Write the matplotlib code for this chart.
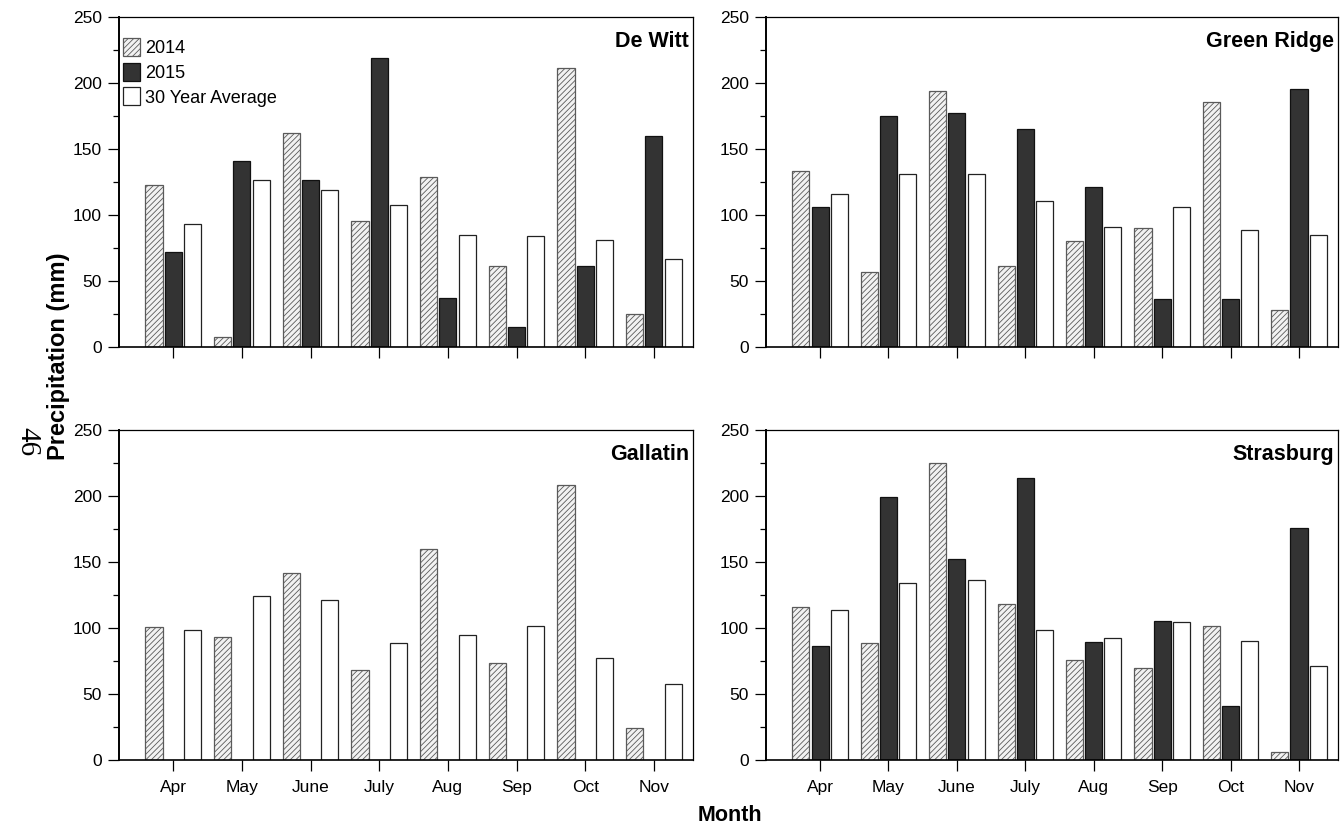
import matplotlib.pyplot as plt
import numpy as np

plt.rcParams['font.family'] = ['Liberation Sans', 'DejaVu Sans']
plt.rcParams['hatch.linewidth'] = 0.6

months = ['Apr', 'May', 'June', 'July', 'Aug', 'Sep', 'Oct', 'Nov']
labels = ['2014', '2015', '30 Year Average']

# precipitation (mm)
dewitt_2014 = [122.7, 7.6, 162, 95.5, 129, 61, 211, 25]
dewitt_2015 = [72, 141, 126.5, 219, 37, 15, 61.5, 160]
dewitt_avg = [93, 126.5, 119, 107.6, 85, 84, 81, 67]

greenridge_2014 = [133.5, 57, 194, 61, 80, 90, 185.5, 28]
greenridge_2015 = [106, 175, 177, 165, 121, 36, 36, 195.5]
greenridge_avg = [116, 131, 131, 110.6, 91, 106, 89, 85]

gallatin_2014 = [100.8, 93, 141.7, 68, 160, 73.5, 208, 24]
gallatin_2015 = None  # no 2015 data for Gallatin
gallatin_avg = [98.5, 124, 121, 89, 94.7, 101.5, 77, 57.6]

strasburg_2014 = [116, 88.6, 225, 118, 76, 70, 101.5, 6]
strasburg_2015 = [86, 199, 152, 213.6, 89.4, 105, 41, 176]
strasburg_avg = [114, 134, 136, 98.5, 92.4, 104.5, 90, 71]

sites = [
    ('De Witt', dewitt_2014, dewitt_2015, dewitt_avg),
    ('Green Ridge', greenridge_2014, greenridge_2015, greenridge_avg),
    ('Gallatin', gallatin_2014, gallatin_2015, gallatin_avg),
    ('Strasburg', strasburg_2014, strasburg_2015, strasburg_avg),
]

fig = plt.figure(figsize=(13.4, 8.3), dpi=100)
W, H = 1340, 830
# axes boxes in pixels: left, top, right, bottom
boxes = [(119, 17, 693, 347), (766, 17, 1338, 347),
         (119, 430, 693, 760), (766, 430, 1338, 760)]

x = np.arange(len(months))
w = 0.25
off = 0.28

for i, ((name, y14, y15, yavg), (l, t, r, b)) in enumerate(zip(sites, boxes)):
    ax = fig.add_axes([l / W, 1 - b / H, (r - l) / W, (b - t) / H])
    ax.bar(x - off, y14, w, facecolor='#f2f2f2', edgecolor='#5a5a5a',
           hatch='//////', linewidth=0.9, label=labels[0])
    if y15 is not None:
        ax.bar(x, y15, w, facecolor='#333333', edgecolor='#111111',
               linewidth=0.9, label=labels[1])
    ax.bar(x + off, yavg, w, facecolor='white', edgecolor='#222222',
           linewidth=0.9, label=labels[2])

    ax.set_xlim(-0.79, 7.57)
    ax.set_ylim(0, 250)
    ax.set_yticks(np.arange(0, 251, 50))
    ax.set_yticks(np.arange(25, 250, 50), minor=True)
    ax.set_xticks(x)
    if i >= 2:
        ax.set_xticklabels(months)
    else:
        ax.set_xticklabels([])
    ax.tick_params(axis='both', direction='out', length=8, width=0.9,
                   labelsize=12.5, pad=4.5)
    ax.tick_params(axis='x', pad=6.5)
    ax.tick_params(axis='y', which='minor', direction='out', length=4.5, width=0.9)
    for s in ax.spines.values():
        s.set_linewidth(0.9)
    ax.spines['left'].set_linewidth(1.4)
    ax.spines['bottom'].set_linewidth(1.2)

    ax.text(0.993, 0.958, name, transform=ax.transAxes, ha='right', va='top',
            fontsize=15.5, fontweight='bold')

    if i == 0:
        ax.legend(loc='upper left', frameon=False, fontsize=13,
                  handlelength=0.95, handleheight=1.15, handletextpad=0.3,
                  labelspacing=0.32, borderpad=0.2, borderaxespad=0,
                  bbox_to_anchor=(0.0, 0.948))

fig.text(58 / W, 1 - 460 / H, 'Precipitation (mm)', rotation=90,
         ha='center', va='bottom', fontsize=17, fontweight='bold')
fig.text(730 / W, 1 - 815 / H, 'Month', ha='center', va='center',
         fontsize=15.5, fontweight='bold')
fig.text(27 / W, 1 - 442 / H, '46', rotation=270, ha='center', va='center',
         fontsize=21, family=['Liberation Serif', 'DejaVu Serif'])

fig.savefig('out.png', dpi=100)
